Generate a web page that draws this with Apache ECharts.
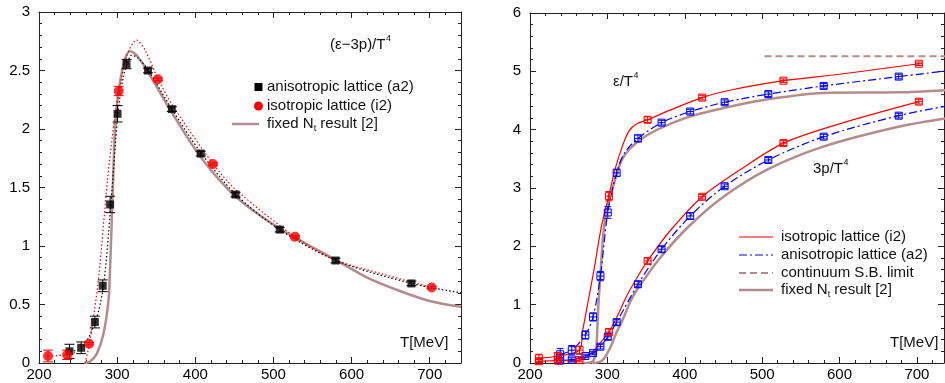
<!DOCTYPE html>
<html><head><meta charset="utf-8">
<script src="https://cdn.jsdelivr.net/npm/echarts@6/dist/echarts.min.js"></script>
<style>html,body{margin:0;padding:0;background:#fff}#c{width:945px;height:383px}</style>
</head><body><div id="c"></div>
<script>
// ---------------- DATA ----------------
// x tick labels (both panels)
const xTicks = [200, 300, 400, 500, 600, 700];
const yTicksLeft = [0, 0.5, 1, 1.5, 2, 2.5, 3];
const yTicksRight = [0, 1, 2, 3, 4, 5, 6];

// anisotropic lattice (a2) temperatures
const T_ANI = [239, 254, 271.5, 281.5, 291, 300.5, 312, 339.5, 370, 407, 451.5, 508, 579.5, 676.5];
// isotropic lattice (i2) temperatures
const T_ISO = [211.5, 236, 264, 302, 352, 422.5, 527.5, 702.5];

// left panel: (e-3p)/T^4
const aniTrace = [0.10, 0.13, 0.35, 0.66, 1.355, 2.13, 2.555, 2.50, 2.17, 1.79, 1.44, 1.14, 0.876, 0.68];
const aniTraceErr = [0.06, 0.05, 0.05, 0.05, 0.07, 0.07, 0.04, 0.02, 0.02, 0.02, 0.02, 0.02, 0.02, 0.02];
const isoTrace = [0.06, 0.07, 0.165, 2.325, 2.425, 1.70, 1.078, 0.645];
const isoTraceErr = [0.05, 0.04, 0.01, 0.04, 0.01, 0.01, 0.01, 0.01];

// left panel curves
const aniFitT = [240, 255, 272, 282.5, 292, 301, 308, 313, 318.5, 326, 340, 370, 408, 452, 508, 580, 677, 740];
const aniFitV = [0.10, 0.13, 0.35, 0.66, 1.36, 2.13, 2.45, 2.56, 2.63, 2.61, 2.50, 2.17, 1.79, 1.44, 1.14, 0.876, 0.68, 0.60];
const isoFitLowT = [212, 236, 246];
const isoFitLowV = [0.06, 0.07, 0.09];
const isoFitT = [259, 264.5, 276, 287.6, 296, 302.6, 312, 325, 336, 352.6, 371, 423, 452, 528, 580, 640, 703];
const isoFitV = [0.0, 0.165, 0.71, 1.56, 2.05, 2.325, 2.62, 2.76, 2.67, 2.425, 2.20, 1.70, 1.48, 1.078, 0.88, 0.76, 0.645];
const fixedTraceT = [258, 265, 274, 282.5, 289, 291, 294, 297, 300.4, 305, 310, 316.5, 325, 340, 371, 408, 452, 508, 580, 620, 660, 700, 740];
const fixedTraceV = [0.0, 0.01, 0.08, 0.25, 0.54, 0.82, 1.39, 1.97, 2.25, 2.45, 2.60, 2.665, 2.63, 2.48, 2.13, 1.75, 1.42, 1.15, 0.88, 0.73, 0.62, 0.53, 0.48];

// right panel: e/T^4 and 3p/T^4 points
const isoE = [0.08, 0.12, 0.22, 2.86, 4.17, 4.55, 4.84, 5.13];
const isoEErr = [0.07, 0.05, 0.07, 0.08, 0.05, 0.04, 0.03, 0.03];
const isoP = [0.03, 0.04, 0.05, 0.53, 1.75, 2.85, 3.77, 4.48];
const isoPErr = [0.03, 0.03, 0.03, 0.05, 0.05, 0.04, 0.04, 0.04];
const aniE = [0.15, 0.22, 0.48, 0.79, 1.49, 2.58, 3.26, 3.85, 4.12, 4.31, 4.47, 4.61, 4.75, 4.91];
const aniEErr = [0.10, 0.08, 0.07, 0.07, 0.08, 0.10, 0.06, 0.06, 0.04, 0.04, 0.04, 0.04, 0.04, 0.04];
const aniP = [0.04, 0.06, 0.12, 0.17, 0.28, 0.45, 0.70, 1.35, 1.95, 2.52, 3.03, 3.48, 3.88, 4.24];
const aniPErr = [0.03, 0.03, 0.03, 0.03, 0.04, 0.05, 0.05, 0.05, 0.05, 0.05, 0.04, 0.04, 0.04, 0.04];

// right panel curves
const isoECurveT = [211.5, 236, 264, 268, 275, 283, 292, 302, 311, 320, 328, 338, 352, 380, 422.5, 460, 527.5, 600, 702.5];
const isoECurveV = [0.08, 0.12, 0.22, 0.55, 1.05, 1.62, 2.32, 2.88, 3.37, 3.74, 3.98, 4.10, 4.17, 4.33, 4.55, 4.68, 4.84, 4.95, 5.13];
const aniECurveT = [239, 254, 271.5, 281.5, 291, 300.5, 312, 322, 339.5, 370, 407, 451.5, 508, 579.5, 676.5, 740];
const aniECurveV = [0.15, 0.22, 0.48, 0.79, 1.49, 2.58, 3.26, 3.60, 3.85, 4.12, 4.31, 4.47, 4.61, 4.75, 4.91, 5.01];
const isoPCurveT = [211.5, 236, 264, 275, 285, 293, 302, 312, 325, 340, 352, 380, 422.5, 470, 527.5, 600, 702.5];
const isoPCurveV = [0.03, 0.04, 0.05, 0.12, 0.25, 0.38, 0.53, 0.78, 1.15, 1.50, 1.75, 2.25, 2.85, 3.30, 3.77, 4.10, 4.48];
const aniPCurveT = [239, 254, 271.5, 281.5, 291, 300.5, 312, 339.5, 370, 407, 451.5, 508, 579.5, 676.5, 740];
const aniPCurveV = [0.04, 0.06, 0.12, 0.17, 0.28, 0.45, 0.70, 1.35, 1.95, 2.52, 3.03, 3.48, 3.88, 4.24, 4.41];
const fixedEpsT = [270, 280, 284, 286, 288.4, 291, 294, 298, 302.6, 311, 319.7, 337, 362.8, 405, 450, 507, 579, 676, 740];
const fixedEpsV = [0.0, 0.02, 0.1, 0.3, 1.0, 1.5, 2.1, 2.55, 2.79, 3.19, 3.51, 3.77, 3.99, 4.22, 4.37, 4.52, 4.63, 4.64, 4.68];
const fixedPT = [280, 290, 296, 300, 305, 311, 320, 330.6, 338, 368, 405, 450, 507, 579, 676, 740];
const fixedPV = [0.0, 0.02, 0.08, 0.17, 0.30, 0.50, 0.75, 1.08, 1.25, 1.80, 2.34, 2.85, 3.32, 3.71, 4.05, 4.20];
const sbLimitT = [503, 740];
const sbLimitV = [5.26, 5.26];

// ---------------- CHART ----------------
const FONT = '"Liberation Sans", Arial, Helvetica, sans-serif';
const BROWN = '#b48c8c';
const AX = '#222';
const zip = (a, b) => a.map((x, i) => [x, b[i]]);
const zip3 = (a, b, c) => a.map((x, i) => [x, b[i], c[i]]);

function errBar(color, capHalf, boxHalf) {
  return function (params, api) {
    const x = api.value(0), y = api.value(1), e = api.value(2);
    const c = api.coord([x, y]);
    const t = api.coord([x, y + e]);
    const b = api.coord([x, y - e]);
    const st = { stroke: color, lineWidth: 1 };
    const ch = [
      { type: 'line', shape: { x1: c[0], y1: t[1], x2: c[0], y2: b[1] }, style: st },
      { type: 'line', shape: { x1: c[0] - capHalf, y1: t[1], x2: c[0] + capHalf, y2: t[1] }, style: st },
      { type: 'line', shape: { x1: c[0] - capHalf, y1: b[1], x2: c[0] + capHalf, y2: b[1] }, style: st }
    ];
    if (boxHalf) {
      ch.push({ type: 'rect', shape: { x: c[0] - boxHalf, y: c[1] - boxHalf, width: 2 * boxHalf, height: 2 * boxHalf }, style: { stroke: color, fill: 'rgba(255,255,255,0)', lineWidth: 1 } });
      ch.push({ type: 'line', shape: { x1: c[0] - boxHalf, y1: c[1], x2: c[0] + boxHalf, y2: c[1] }, style: st });
    }
    return { type: 'group', children: ch };
  };
}

function axisSet(dim, grid, min, max, major, minor) {
  const pos = dim === 'x' ? ['bottom', 'top'] : ['left', 'right'];
  const base = { type: 'value', gridIndex: grid, min: min, max: max, splitLine: { show: false } };
  const lab = dim === 'x'
    ? { show: true, fontSize: 15, fontFamily: FONT, color: '#000', margin: 4, showMaxLabel: false }
    : { show: true, fontSize: 15, fontFamily: FONT, color: '#000', margin: 9 };
  return [
    Object.assign({}, base, { position: pos[0], interval: major, axisLine: { show: true, onZero: false, lineStyle: { color: AX, width: 1 } }, axisTick: { show: true, inside: true, length: 6, lineStyle: { color: AX } }, axisLabel: lab }),
    Object.assign({}, base, { position: pos[0], interval: minor, axisLine: { show: false, onZero: false }, axisTick: { show: true, inside: true, length: 3, lineStyle: { color: AX } }, axisLabel: { show: false } }),
    Object.assign({}, base, { position: pos[1], interval: major, axisLine: { show: true, onZero: false, lineStyle: { color: AX, width: 1 } }, axisTick: { show: true, inside: true, length: 6, lineStyle: { color: AX } }, axisLabel: { show: false } }),
    Object.assign({}, base, { position: pos[1], interval: minor, axisLine: { show: false, onZero: false }, axisTick: { show: true, inside: true, length: 3, lineStyle: { color: AX } }, axisLabel: { show: false } })
  ];
}

const ctx = document.createElement('canvas').getContext('2d');
function tw(s, size) { ctx.font = size + 'px ' + FONT; return ctx.measureText(s).width; }
function txt(x, y, s, size, extra) {
  return Object.assign({ type: 'text', x: x, y: y, z: 100, style: { text: s, fontSize: size || 15, fontFamily: FONT, fill: '#111', align: 'left', verticalAlign: 'middle' } }, extra || {});
}
function withSup(x, y, base, sup) {
  return [txt(x, y, base, 15), txt(x + tw(base, 15) + 0.5, y - 6, sup, 9)];
}
function fixedLabel(x, y) {
  const a = 'fixed N';
  const w1 = tw(a, 15);
  return [txt(x, y, a, 15), txt(x + w1, y + 5, 't', 9), txt(x + w1 + tw('t', 9), y, ' result [2]', 15)];
}
function hline(x1, x2, y, color, width, dash) {
  return { type: 'line', z: 100, shape: { x1: x1, y1: y, x2: x2, y2: y }, style: { stroke: color, lineWidth: width, lineDash: dash || null } };
}

const dotted = [1.5, 2.2];
const dashDot = [8, 3, 2, 3];

const graphics = [].concat(
  withSup(330, 45, '(ε−3p)/T', '4'),
  [
    { type: 'rect', z: 100, shape: { x: 254.5, y: 83, width: 8, height: 8 }, style: { fill: '#000' } },
    txt(267, 87, 'anisotropic lattice (a2)'),
    { type: 'circle', z: 100, shape: { cx: 258.5, cy: 106, r: 4.5 }, style: { fill: '#ff0000' } },
    txt(267, 106, 'isotropic lattice (i2)'),
    hline(232, 259, 124, BROWN, 2.5)
  ],
  fixedLabel(267, 124),
  [txt(400, 343, 'T[MeV]')],
  withSup(613, 82, 'ε/T', '4'),
  withSup(813, 169, '3p/T', '4'),
  [txt(890, 343, 'T[MeV]')],
  [
    hline(739, 773, 237, '#ff0000', 1.2),
    txt(781, 237, 'isotropic lattice (i2)'),
    hline(739, 773, 255, '#0000ff', 1.2, dashDot),
    txt(781, 255, 'anisotropic lattice (a2)'),
    hline(739, 773, 273, BROWN, 2, [7, 4]),
    txt(781, 273, 'continuum S.B. limit'),
    hline(739, 773, 290, BROWN, 2.5)
  ],
  fixedLabel(781, 290)
);

const xAxis = [].concat(axisSet('x', 0, 200, 740, 100, 20), axisSet('x', 1, 200, 735, 100, 20));
const yAxis = [].concat(axisSet('y', 0, 0, 3, 0.5, 0.1), axisSet('y', 1, 0, 6, 1, 0.2));

function lineS(xi, data, color, width, type, z) {
  return { type: 'line', xAxisIndex: xi, yAxisIndex: xi, data: data, showSymbol: false, symbol: 'none', smooth: 0.3, z: z || 2, silent: true, lineStyle: { color: color, width: width, type: type || 'solid' } };
}
function errS(xi, data, color, cap, box, z) {
  return { type: 'custom', xAxisIndex: xi, yAxisIndex: xi, data: data, renderItem: errBar(color, cap, box), encode: { x: 0, y: 1 }, z: z || 5, silent: true };
}

const series = [
  // left panel
  lineS(0, zip(fixedTraceT, fixedTraceV), BROWN, 2.5, 'solid', 1),
  lineS(0, zip(aniFitT, aniFitV), '#000', 1.2, dotted, 2),
  lineS(0, zip(isoFitLowT, isoFitLowV), '#ff0000', 1.2, dotted, 3),
  lineS(0, zip(isoFitT, isoFitV), '#ff0000', 1.2, dotted, 3),
  errS(0, zip3(T_ANI, aniTrace, aniTraceErr), '#000', 5, 0, 4),
  errS(0, zip3(T_ISO, isoTrace, isoTraceErr), '#ff0000', 5, 0, 4),
  { type: 'scatter', xAxisIndex: 0, yAxisIndex: 0, data: zip(T_ANI, aniTrace), symbol: 'rect', symbolSize: 8, itemStyle: { color: '#000' }, z: 6, silent: true },
  { type: 'scatter', xAxisIndex: 0, yAxisIndex: 0, data: zip(T_ISO, isoTrace), symbol: 'circle', symbolSize: 10, itemStyle: { color: '#ff0000' }, z: 6, silent: true },
  // right panel
  lineS(4, zip(fixedEpsT, fixedEpsV), BROWN, 2.5, 'solid', 1),
  lineS(4, zip(fixedPT, fixedPV), BROWN, 2.5, 'solid', 1),
  { type: 'line', xAxisIndex: 4, yAxisIndex: 4, data: zip(sbLimitT, sbLimitV), showSymbol: false, symbol: 'none', z: 1, silent: true, lineStyle: { color: BROWN, width: 2, type: [7, 4] } },
  lineS(4, zip(aniECurveT, aniECurveV), '#0000ff', 1.2, dashDot, 2),
  lineS(4, zip(aniPCurveT, aniPCurveV), '#0000ff', 1.2, dashDot, 2),
  lineS(4, zip(isoECurveT, isoECurveV), '#ff0000', 1.2, 'solid', 3),
  lineS(4, zip(isoPCurveT, isoPCurveV), '#ff0000', 1.2, 'solid', 3),
  errS(4, zip3(T_ANI, aniE, aniEErr), '#0000ff', 3.5, 3.5, 5),
  errS(4, zip3(T_ANI, aniP, aniPErr), '#0000ff', 3.5, 3.5, 5),
  errS(4, zip3(T_ISO, isoE, isoEErr), '#ff0000', 3.5, 3.5, 6),
  errS(4, zip3(T_ISO, isoP, isoPErr), '#ff0000', 3.5, 3.5, 6)
];

const chart = echarts.init(document.getElementById('c'), null, { renderer: 'canvas' });
chart.setOption({
  animation: false,
  backgroundColor: '#fff',
  grid: [
    { left: 39, right: 484, top: 12, bottom: 20, containLabel: false, outerBoundsMode: 'none' },
    { left: 530, right: 1, top: 13, bottom: 20, containLabel: false, outerBoundsMode: 'none' }
  ],
  xAxis: xAxis,
  yAxis: yAxis,
  series: series,
  graphic: graphics
});
</script></body></html>
